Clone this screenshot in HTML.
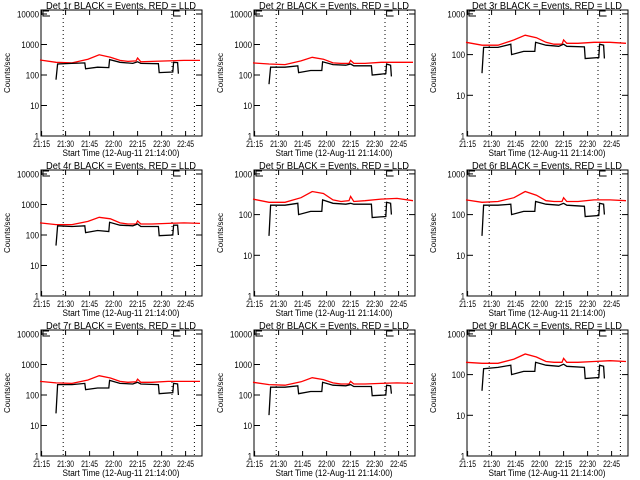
<!DOCTYPE html>
<html><head><meta charset="utf-8">
<style>
html,body{margin:0;padding:0;background:#fff;}
svg{display:block;font-family:"Liberation Sans",sans-serif;}
</style></head>
<body>
<svg id="chart" width="640" height="480" viewBox="0 0 640 480" xmlns="http://www.w3.org/2000/svg"></svg>
<script>
const panelTitles = ["Det 1r","Det 2r","Det 3r","Det 4r","Det 5r","Det 6r","Det 7r","Det 8r","Det 9r"];
const panelYMaxDecade = [4,4,3,4,3,3,4,4,3];
const xTickLabels = ["21:15","21:30","21:45","22:00","22:15","22:30","22:45"];
const xTickMinutes = [1,16,31,46,61,76,91];
const yTickLabels4 = ["1","10","100","1000","10000"];
const yTickLabels3 = ["1","10","100","1000"];
const markerMinutes = [14.5,82.5,96.5];
const blackTimes = [10,11,20,28,28.5,36,43,43.5,50,58,61,63,74,74.5,83,83.5,86,86.5];
const redTimes = [0,10,20,30,37,44,50,55,60,61,63,70,80,90,100];
const black1 = [70,230,240,250,160,180,175,320,260,240,270,240,235,120,125,260,255,110];
const black2 = [50,180,180,200,120,140,140,270,220,210,230,200,200,100,110,230,210,90];
const black3 = [35,150,150,180,100,120,120,200,170,160,180,160,155,80,85,180,170,80];
const black4 = [45,200,190,200,120,140,130,260,210,200,230,190,190,95,100,210,210,100];
const black5 = [30,170,170,190,100,120,120,230,190,180,190,180,180,85,90,200,190,100];
const black6 = [30,170,170,180,100,120,120,210,180,170,190,170,160,90,95,190,180,100];
const black7 = [25,220,220,240,150,170,170,300,240,230,260,230,220,110,120,240,230,100];
const black8 = [22,180,180,200,110,130,130,260,210,200,220,190,190,95,100,210,200,110];
const black9 = [40,140,150,170,100,120,120,200,170,160,180,160,150,80,85,170,160,80];
const red1 = [310,260,250,330,460,380,300,280,290,360,270,280,290,300,300];
const red2 = [250,230,220,290,380,330,250,240,240,300,240,240,260,260,260];
const red3 = [200,170,170,230,300,260,200,180,180,230,190,190,200,200,190];
const red4 = [250,220,220,280,380,340,250,230,230,290,230,230,240,250,240];
const red5 = [240,200,200,260,370,330,230,210,220,280,210,220,240,250,220];
const red6 = [230,200,210,260,370,300,220,210,210,260,210,210,230,230,220];
const red7 = [280,250,240,310,430,360,280,260,270,330,260,260,280,280,280];
const red8 = [260,220,210,270,370,320,250,230,230,280,230,230,240,250,240];
const red9 = [200,190,190,240,320,270,210,200,200,250,200,200,210,220,210];
const blackSeries = [black1,black2,black3,black4,black5,black6,black7,black8,black9];
const redSeries = [red1,red2,red3,red4,red5,red6,red7,red8,red9];

const NS = "http://www.w3.org/2000/svg";
const svg = document.getElementById("chart");
function mk(tag, attrs, parent){const e=document.createElementNS(NS,tag);for(const k in attrs)e.setAttribute(k,attrs[k]);parent.appendChild(e);return e;}

for(let p=0;p<9;p++){
  const ox=(p%3)*213, oy=Math.floor(p/3)*160;
  const L=ox+41, R=ox+202, T=oy+10, B=oy+136;
  const dec=panelYMaxDecade[p];
  const per = dec===4?30.5:40.7;
  const xs=t=>L+(t-1)*1.6+0.6;
  const ys=v=>B-Math.log10(v)*per;
  const g=mk("g",{},svg);
  
  
  const t=mk("text",{x:ox+121,y:oy+9,"text-anchor":"middle","font-size":"10.5",textLength:"150",lengthAdjust:"spacingAndGlyphs"},g);
  t.textContent=panelTitles[p]+" BLACK = Events, RED = LLD";
  
  
  const yl=mk("text",{x:0,y:0,"text-anchor":"middle","font-size":"8.5",textLength:"40",lengthAdjust:"spacingAndGlyphs","transform":`translate(${ox+10},${oy+73}) rotate(-90)`},g);
  yl.textContent="Counts/sec";
  
  
  const xl=mk("text",{x:ox+121,y:oy+156,"text-anchor":"middle","font-size":"9.5",textLength:"117",lengthAdjust:"spacingAndGlyphs"},g);
  xl.textContent="Start Time (12-Aug-11 21:14:00)";
  
  
  const box=mk("rect",{x:L,y:T,width:R-L,height:B-T,fill:"none",stroke:"#000","stroke-width":1},g);
  
  
  xTickMinutes.forEach((m,i)=>{
    const x=xs(m);
    mk("line",{x1:x,y1:B,x2:x,y2:B-5,stroke:"#000"},g);
    mk("line",{x1:x,y1:T,x2:x,y2:T+5,stroke:"#000"},g);
    const lb=mk("text",{x:x,y:oy+147,"text-anchor":"middle","font-size":"9",textLength:"17",lengthAdjust:"spacingAndGlyphs"},g);
    lb.textContent=xTickLabels[i];
    
    
  });
  const labs=dec===4?yTickLabels4:yTickLabels3;
  labs.forEach((s,i)=>{
    const y=ys(Math.pow(10,i));
    mk("line",{x1:L,y1:y,x2:L+6,y2:y,stroke:"#000"},g);
    mk("line",{x1:R,y1:y,x2:R-6,y2:y,stroke:"#000"},g);
    const lb=mk("text",{x:L-2,y:y+3.5,"text-anchor":"end","font-size":"9",textLength:String(s.length*4.4),lengthAdjust:"spacingAndGlyphs"},g);
    lb.textContent=s;
    
    
  });
  markerMinutes.forEach(m=>{
    const ln=mk("line",{x1:xs(m),y1:T,x2:xs(m),y2:B,stroke:"#000","stroke-dasharray":"1,3"},g);
    
    
  });
  [L+2,xs(83.5)].forEach(x=>{
    const e=mk("path",{d:`M${x},${T} V${T+6} H${x+7} M${x},${T+1} H${x+6}`,fill:"none",stroke:"#000"},g);
    
    
  });
  let d="";
  redSeries[p].forEach((v,i)=>{d+=(i?"L":"M")+xs(redTimes[i]).toFixed(1)+","+ys(v).toFixed(1);});
  const rp=mk("path",{d:d,fill:"none",stroke:"#ff0000","stroke-width":1.3},g);
  
  
  let db="";
  blackSeries[p].forEach((v,i)=>{db+=(i?"L":"M")+xs(blackTimes[i]).toFixed(1)+","+ys(v).toFixed(1);});
  const bp=mk("path",{d:db,fill:"none",stroke:"#000","stroke-width":1.3},g);
  
  
}
</script>
</body></html>
